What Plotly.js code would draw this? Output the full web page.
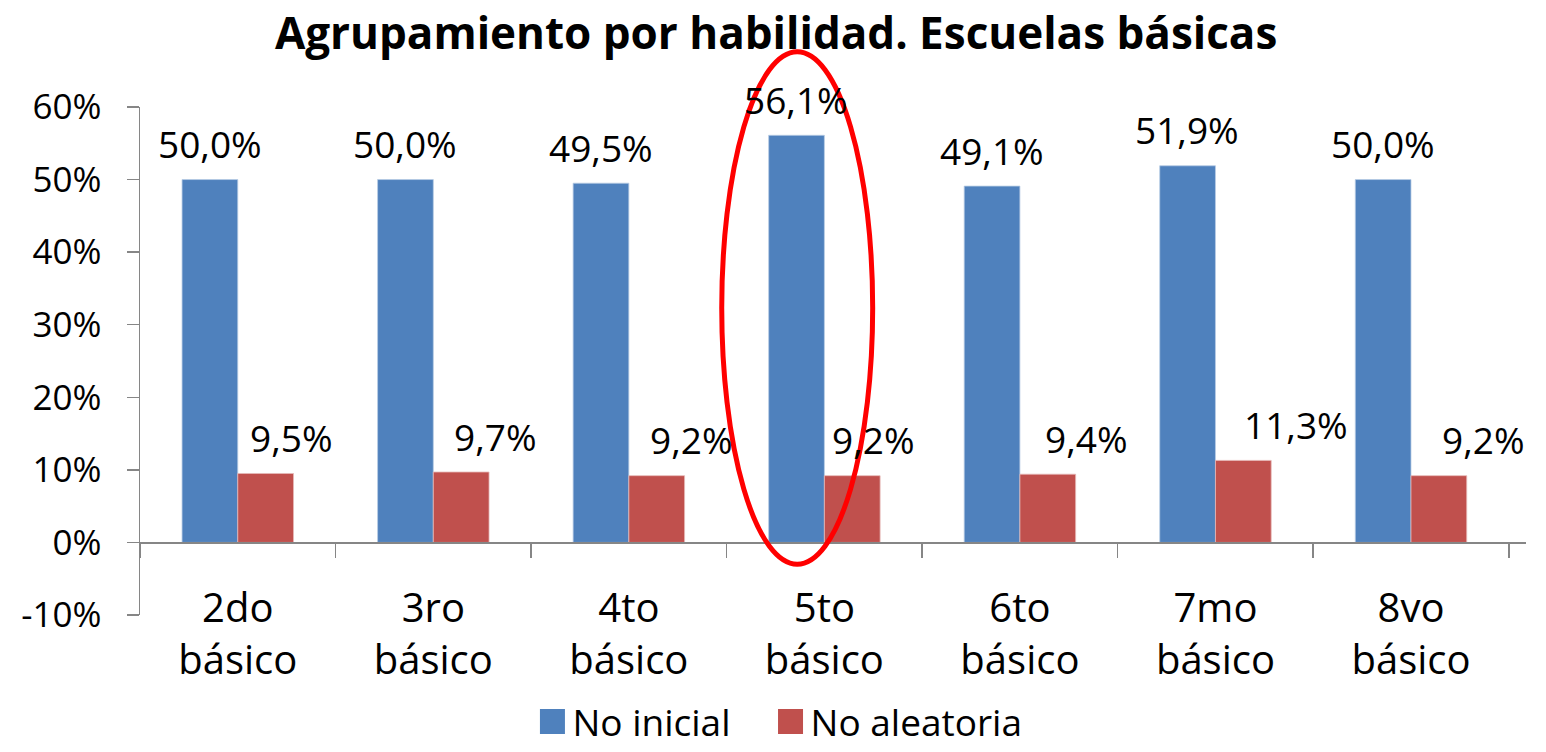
<!DOCTYPE html>
<html>
<head>
<meta charset="utf-8">
<script src="https://cdn.plot.ly/plotly-3.0.1.min.js"></script>
<style>
  html, body { margin: 0; padding: 0; background: #ffffff; }
  #chart { width: 1546px; height: 752px; }
</style>
</head>
<body>
<div id="chart"></div>
<script>
// ---- data ----
const categories = ['2do básico', '3ro básico', '4to básico', '5to básico', '6to básico', '7mo básico', '8vo básico'];
const categoryLabels = ['2do<br>básico', '3ro<br>básico', '4to<br>básico', '5to<br>básico', '6to<br>básico', '7mo<br>básico', '8vo<br>básico'];
const noInicial = [50.0, 50.0, 49.5, 56.1, 49.1, 51.9, 50.0];
const noAleatoria = [9.5, 9.7, 9.2, 9.2, 9.4, 11.3, 9.2];
const seriesNames = ['No inicial', 'No aleatoria'];
const yTickVals = [-10, 0, 10, 20, 30, 40, 50, 60];
const yTickText = ['-10%', '0%', '10%', '20%', '30%', '40%', '50%', '60%'];
const titleText = 'Agrupamiento por habilidad. Escuelas básicas';

// ---- styling (pixel offsets of the value labels, as in the original) ----
const blueColor = '#4F81BD';
const redColor = '#C0504D';
const blueLabelShift = [-28, -28, -28, -28, -28, -28, -28];
const redLabelShift = [53, 62, 62, 49, 66, 81, 72];
const FONT = '"Open Sans", "Noto Sans", sans-serif';
const axisColor = '#868686';

function fmt(v) { return v.toFixed(1).replace('.', ',') + '%'; }

const traces = [
  {
    type: 'bar', name: seriesNames[0], x: categories, y: noInicial,
    marker: { color: blueColor, line: { color: '#B9CDE5', width: 0.8 } },
    legend: 'legend', hoverinfo: 'skip'
  },
  {
    type: 'bar', name: seriesNames[1], x: categories, y: noAleatoria,
    marker: { color: redColor, line: { color: '#E6B9B8', width: 0.8 } },
    legend: 'legend2', hoverinfo: 'skip'
  }
];

const annotations = [];
categories.forEach((c, i) => {
  annotations.push({
    x: c, y: noInicial[i], xref: 'x', yref: 'y', text: fmt(noInicial[i]),
    showarrow: false, xshift: blueLabelShift[i], yshift: 36, yanchor: 'middle',
    font: { family: FONT, size: 37, color: '#000000' }
  });
  annotations.push({
    x: c, y: noAleatoria[i], xref: 'x', yref: 'y', text: fmt(noAleatoria[i]),
    showarrow: false, xshift: redLabelShift[i], yshift: 36, yanchor: 'middle',
    font: { family: FONT, size: 37, color: '#000000' }
  });
});

const legendBase = {
  orientation: 'h', xref: 'container', yref: 'container',
  xanchor: 'left', y: 0.04, yanchor: 'middle',
  font: { family: FONT, size: 37, color: '#000000' },
  bgcolor: 'rgba(0,0,0,0)'
};

const layout = {
  width: 1546, height: 752,
  paper_bgcolor: '#ffffff', plot_bgcolor: '#ffffff',
  margin: { l: 140, r: 20, t: 107, b: 137 },
  font: { family: FONT, color: '#000000' },
  title: {
    text: '<b>' + titleText + '</b>',
    font: { family: FONT, size: 44, color: '#000000' },
    x: 0.502, xref: 'container', xanchor: 'center',
    y: 0.955, yref: 'container', yanchor: 'middle'
  },
  barmode: 'group', bargap: 0.43, bargroupgap: 0,
  showlegend: true,
  legend: Object.assign({}, legendBase, { x: 0.3444 }),
  legend2: Object.assign({}, legendBase, { x: 0.4984 }),
  xaxis: {
    type: 'category',
    tickvals: categories, ticktext: categoryLabels,
    anchor: 'free', position: 10 / 70,
    showline: true, linecolor: axisColor, linewidth: 1.5,
    ticks: 'outside', tickson: 'boundaries', ticklen: 14, tickcolor: axisColor, tickwidth: 1.5,
    ticklabelstandoff: 30,
    tickfont: { family: FONT, size: 40, color: '#000000' },
    showgrid: false, zeroline: false, fixedrange: true
  },
  yaxis: {
    range: [-10, 60],
    tickvals: yTickVals, ticktext: yTickText,
    showline: true, linecolor: axisColor, linewidth: 1.5,
    ticks: 'outside', ticklen: 12, tickcolor: axisColor, tickwidth: 1.5,
    ticklabelstandoff: 18,
    tickfont: { family: FONT, size: 35, color: '#000000' },
    showgrid: false, zeroline: false, fixedrange: true
  },
  annotations: annotations,
  shapes: [
    {
      type: 'circle', xref: 'x', yref: 'paper',
      x0: 2.475, x1: 3.247, y0: 0.1, y1: 1.1086,
      line: { color: '#FF0000', width: 5 }, fillcolor: 'rgba(0,0,0,0)',
      layer: 'above'
    }
  ]
};

Plotly.newPlot('chart', traces, layout, { staticPlot: true, displayModeBar: false }).then(function () {
  document.querySelectorAll('#chart .legendpoints path').forEach(function (p) {
    p.setAttribute('d', 'M12.5,12.5H-12.5V-12.5H12.5Z');
    p.style.strokeWidth = '0';
  });
});
</script>
</body>
</html>
